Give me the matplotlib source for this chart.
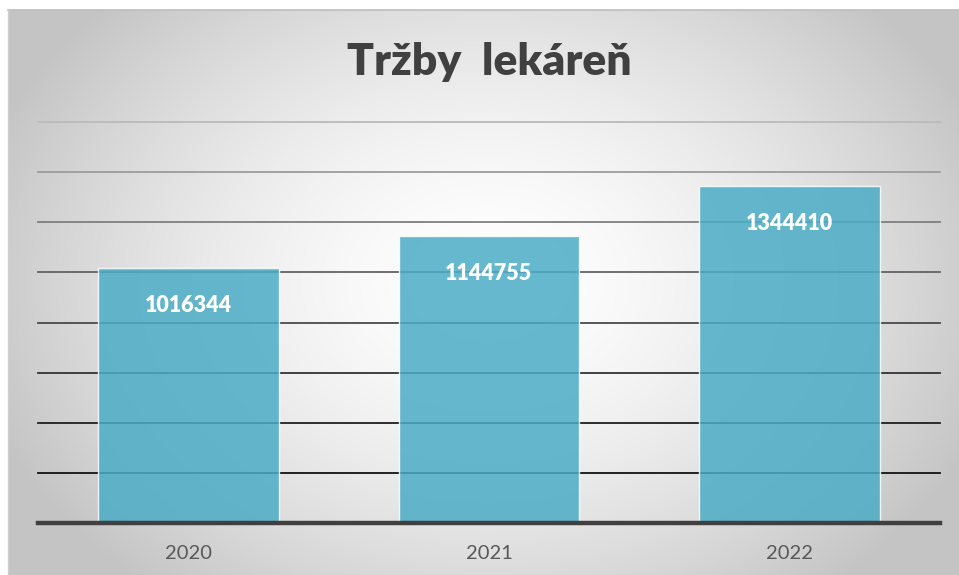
import numpy as np
import matplotlib.pyplot as plt

# ── Data ─────────────────────────────────────────────────────────────────────
years = ["2020", "2021", "2022"]
sales = [1016344, 1144755, 1344410]
title = "Tržby  lekáreň"

plt.rcParams['font.family'] = ['Lato', 'DejaVu Sans']

W, H = 959, 575
fig = plt.figure(figsize=(W / 100, H / 100), dpi=100)

# ── Panel background: radial grey gradient ───────────────────────────────────
px0, py0 = 8, 10
bg = fig.add_axes([px0 / W, 0, (W - px0) / W, (H - py0) / H], zorder=0)
yy, xx = np.mgrid[0:H - py0, 0:W - px0]
cx, cy = 480, 270
r = np.sqrt(((xx - cx) / 560.0) ** 2 + ((yy - cy) / 420.0) ** 2)
shade = np.clip(1.0 - 0.25 * r ** 1.6, 0.77, 1.0)
bg.imshow(np.dstack([shade] * 3), aspect='auto', interpolation='bilinear')
bg.axis('off')
fig.add_artist(plt.Line2D([px0 / W, 1], [1 - py0 / H] * 2, color='#bdbdbd', lw=1.2))
fig.add_artist(plt.Line2D([px0 / W] * 2, [0, 1 - py0 / H], color='#cfcfcf', lw=1.0))

# ── Chart axes ───────────────────────────────────────────────────────────────
ax = fig.add_axes([38 / W, 52 / H, (940 - 38) / W, (523 - 122) / H], zorder=1)
ax.patch.set_visible(False)
ax.set_xlim(-0.5, 2.5)
ax.set_ylim(0, 1600000)

# gridlines fading from black (bottom) to light grey (top)
levels = np.arange(200000, 1600001, 200000)
for i, lv in enumerate(levels):
    g = 0.07 + 0.66 * (i / (len(levels) - 1)) ** 1.3
    ax.axhline(lv, color=(g, g, g), lw=1.3, zorder=1, clip_on=False)
ax.axhline(0, color='#404040', lw=3.2, zorder=3, clip_on=False)

x = np.arange(len(years))
bars = ax.bar(x, sales, width=0.6, color='#4BACC6', alpha=0.85,
              edgecolor='white', linewidth=1.0, zorder=2)
for xi, v in zip(x, sales):
    ax.annotate(str(v), (xi, v), xytext=(0, -27), textcoords='offset points',
                ha='center', va='center', color='white', fontsize=15.5,
                fontweight='heavy', zorder=4)

ax.set_xticks(x, years)
ax.tick_params(axis='x', length=0, pad=16, labelsize=14.5, labelcolor='#595959')
ax.set_yticks([])
for s in ax.spines.values():
    s.set_visible(False)

fig.text(489 / W, 1 - 62 / H, title, ha='center', va='center', fontsize=32,
         fontweight='heavy', color='#404040')

fig.savefig('out.png', dpi=100)
